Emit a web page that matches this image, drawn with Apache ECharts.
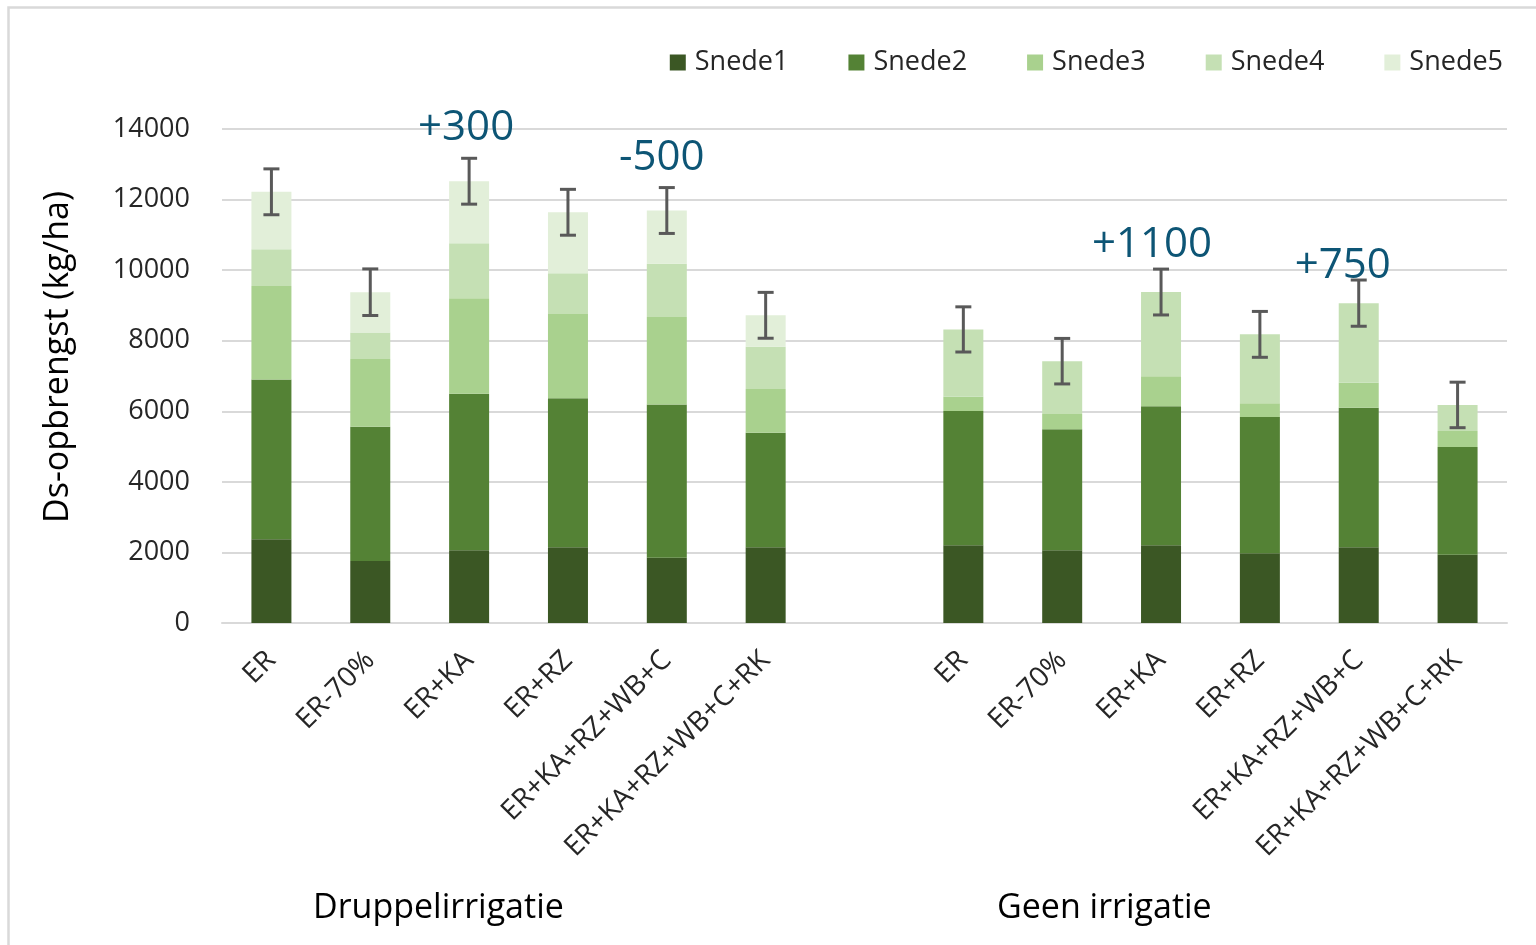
<!DOCTYPE html>
<html>
<head>
<meta charset="utf-8">
<script src="https://cdn.jsdelivr.net/npm/echarts@6/dist/echarts.min.js"></script>
<style>
  html, body { margin: 0; padding: 0; background: #fff; }
  #chart { width: 1536px; height: 945px; }
</style>
</head>
<body>
<div id="chart"></div>
<script>
// categories: two groups with an empty slot in between
const categories = ['ER', 'ER-70%', 'ER+KA', 'ER+RZ', 'ER+KA+RZ+WB+C', 'ER+KA+RZ+WB+C+RK', '',
                    'ER', 'ER-70%', 'ER+KA', 'ER+RZ', 'ER+KA+RZ+WB+C', 'ER+KA+RZ+WB+C+RK'];

const snede1 = [2370, 1760, 2060, 2150, 1850, 2150, '-', 2200, 2060, 2200, 1980, 2150, 1935];
const snede2 = [4530, 3800, 4440, 4220, 4345, 3240, '-', 3805, 3430, 3940, 3860, 3950, 3055];
const snede3 = [2650, 1920, 2700, 2390, 2475, 1240, '-', 405, 430, 850, 390, 710, 450];
const snede4 = [1040, 755, 1560, 1155, 1510, 1200, '-', 1910, 1500, 2390, 1950, 2255, 740];
const snede5 = [1630, 1140, 1760, 1725, 1510, 890, '-', 0, 0, 0, 0, 0, 0];
const errors = [650, 660, 650, 650, 650, 650, '-', 640, 645, 650, 650, 655, 645];

const noteIdx = [2, 4, 9, 11];
const noteText = ['+300', '-500', '+1100', '+750'];
const noteY = [14020, 13180, 10700, 10130];

const groupLabels = ['Druppelirrigatie', 'Geen irrigatie'];
const yTitle = 'Ds-opbrengst (kg/ha)';

const colors = ['#3b5724', '#548235', '#a9d18e', '#c5e0b4', '#e2efd9'];
const FONT = '"Open Sans", "Noto Sans", sans-serif';
const noteShift = [-3, -5, -9, -16]; // label nudges, px

const stacks = [snede1, snede2, snede3, snede4, snede5];
const names = ['Snede1', 'Snede2', 'Snede3', 'Snede4', 'Snede5'];

const errData = categories.map((c, i) => {
  if (errors[i] === '-') return null;
  let total = 0;
  stacks.forEach(s => { total += s[i]; });
  return [i, total, errors[i]];
}).filter(d => d);

const chart = echarts.init(document.getElementById('chart'));

const barSeries = stacks.map((data, k) => ({
  name: names[k],
  type: 'bar',
  stack: 'total',
  barWidth: 40,
  data: data,
  itemStyle: { color: colors[k] },
  emphasis: { disabled: true }
}));

const option = {
  animation: false,
  textStyle: { fontFamily: FONT },
  color: colors,
  grid: { left: 222, right: 29, top: 129, bottom: 322 },
  legend: {
    data: names,
    right: 28,
    top: 44,
    itemWidth: 16,
    itemHeight: 16,
    itemGap: 60,
    icon: 'rect',
    textStyle: { fontSize: 27, color: '#262626', fontFamily: FONT, padding: [0, 0, 0, 4] }
  },
  xAxis: {
    type: 'category',
    data: categories,
    axisTick: { show: false },
    axisLine: { lineStyle: { color: '#d9d9d9', width: 2 } },
    axisLabel: {
      interval: 0,
      rotate: 45,
      margin: 33,
      fontSize: 28,
      color: '#262626',
      fontFamily: FONT
    }
  },
  yAxis: {
    type: 'value',
    min: 0,
    max: 14000,
    interval: 2000,
    axisLine: { show: false },
    axisTick: { show: false },
    splitLine: { lineStyle: { color: '#d9d9d9', width: 2 } },
    axisLabel: {
      fontSize: 27,
      color: '#262626',
      margin: 32,
      fontFamily: FONT,
      formatter: v => String(v)
    }
  },
  series: barSeries.concat([
    {
      type: 'custom',
      name: 'err',
      z: 10,
      data: errData,
      renderItem: function (params, api) {
        const x = api.value(0);
        const hi = api.coord([x, api.value(1) + api.value(2)]);
        const lo = api.coord([x, api.value(1) - api.value(2)]);
        const cap = 8;
        const style = { stroke: '#595959', lineWidth: 3 };
        return {
          type: 'group',
          children: [
            { type: 'line', shape: { x1: hi[0], y1: hi[1], x2: lo[0], y2: lo[1] }, style: style },
            { type: 'line', shape: { x1: hi[0] - cap, y1: hi[1], x2: hi[0] + cap, y2: hi[1] }, style: style },
            { type: 'line', shape: { x1: lo[0] - cap, y1: lo[1], x2: lo[0] + cap, y2: lo[1] }, style: style }
          ]
        };
      }
    },
    {
      type: 'scatter',
      name: 'notes',
      symbolSize: 0,
      clip: false,
      z: 11,
      itemStyle: { opacity: 1 },
      emphasis: { disabled: true },
      data: noteIdx.map((idx, i) => ({
        value: [idx, noteY[i]],
        label: { formatter: noteText[i], offset: [noteShift[i], 0] }
      })),
      label: {
        show: true,
        position: 'inside',
        fontSize: 42,
        color: '#0d5575',
        fontFamily: FONT
      }
    }
  ]),
  graphic: [
    {
      type: 'rect',
      left: 6, top: 5,
      shape: { width: 1540, height: 950 },
      style: { fill: 'none', stroke: '#d9d9d9', lineWidth: 2.5 },
      silent: true
    },
    {
      type: 'text',
      x: 58, y: 357,
      rotation: Math.PI / 2,
      style: { text: yTitle, font: '34px ' + FONT, fill: '#000', align: 'center', verticalAlign: 'middle' }
    },
    {
      type: 'text',
      left: 313, top: 891,
      style: { text: groupLabels[0], font: '34px ' + FONT, fill: '#000' }
    },
    {
      type: 'text',
      left: 997, top: 891,
      style: { text: groupLabels[1], font: '34px ' + FONT, fill: '#000' }
    }
  ]
};

chart.setOption(option);
</script>
</body>
</html>
